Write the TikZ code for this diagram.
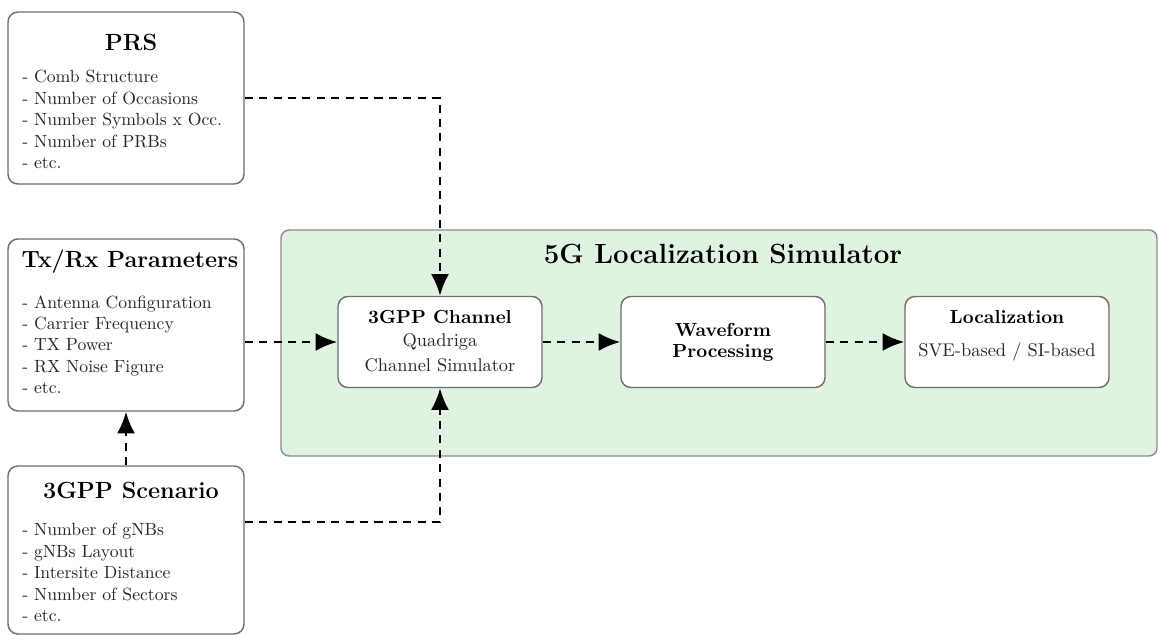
\documentclass[tikz,border=0pt]{standalone}
\usetikzlibrary{arrows.meta}
\definecolor{simgreen}{RGB}{224,243,224}
\definecolor{boxgray}{RGB}{110,110,110}
\definecolor{simborder}{RGB}{140,140,140}
\begin{document}
\begin{tikzpicture}[x=0.555pt,y=-0.555pt,
  inbox/.style={draw=boxgray, line width=0.8pt, rounded corners=5.5pt, fill=white,
    minimum width={236*0.555pt}, minimum height={172*0.555pt}, inner sep=0pt},
  procbox/.style={draw=boxgray, line width=0.8pt, rounded corners=5.5pt, fill=white,
    minimum width={204*0.555pt}, minimum height={91*0.555pt}, inner sep=0pt},
  bigtitle/.style={font=\fontsize{13}{15.6}\selectfont\bfseries, inner sep=0pt},
  listtext/.style={align=left, inner sep=0pt, anchor=north west, font=\fontsize{9.8}{11.9}\selectfont, text=black!85},
  proctitle/.style={font=\fontsize{10.5}{12.6}\selectfont\bfseries, inner sep=0pt},
  proctext/.style={font=\fontsize{10.2}{12.3}\selectfont, inner sep=0pt, text=black!85},
  flow/.style={draw=black, line width=1.5pt, dash pattern=on 4.5pt off 3.5pt,
    -{Latex[length=12pt,width=10pt]}}
]
\useasboundingbox (0,0) rectangle (1158,635);

% simulator frame
\node[draw=simborder, line width=0.8pt, fill=simgreen, rounded corners=4.5pt,
  minimum width={876*0.555pt}, minimum height={226*0.555pt}, inner sep=0pt] (sim) at (719,343) {};
\node[font=\fontsize{15.4}{18.5}\selectfont\bfseries, inner sep=0pt] (simtitle) at (723,254) {5G Localization Simulator};

% left boxes
\node[inbox] (prs) at (126,98) {};
\node[bigtitle] (prst) at (131,42) {PRS};
\node[listtext] (prsl) at (22,70) {- Comb Structure\\- Number of Occasions\\- Number Symbols x Occ.\\- Number of PRBs\\- etc.};

\node[inbox] (txrx) at (126,325) {};
\node[bigtitle] (txrxt) at (130,262) {Tx/Rx Parameters};
\node[listtext] (txrxl) at (22,295) {- Antenna Configuration\\- Carrier Frequency\\- TX Power\\- RX Noise Figure\\- etc.};

\node[inbox, minimum height={168*0.555pt}] (scen) at (126,550) {};
\node[bigtitle] (scent) at (131,490) {3GPP Scenario};
\node[listtext] (scenl) at (22,523) {- Number of gNBs\\- gNBs Layout\\- Intersite Distance\\- Number of Sectors\\- etc.};

% processing boxes
\node[procbox] (chan) at (440,342) {};
\node[proctitle] (chant) at (440,317) {3GPP Channel};
\node[proctext] (chanq) at (440,342) {Quadriga};
\node[proctext] (chans) at (440,365) {Channel Simulator};

\node[procbox] (wave) at (723,342) {};
\node[proctitle] (wavet1) at (723,330) {Waveform};
\node[proctitle] (wavet2) at (723,353) {Processing};

\node[procbox] (loc) at (1007,342) {};
\node[proctitle] (loct) at (1007,317) {Localization};
\node[proctext] (locl) at (1007,352) {SVE-based / SI-based};

% connectors
\draw[flow] (prs.east) -| (chan.north);
\draw[flow] (txrx.east |- chan.west) -- (chan.west);
\draw[flow] ([yshift={28*0.555pt}]scen.east) -| (chan.south);
\draw[flow] (scen.north) -- (txrx.south);
\draw[flow] (chan.east) -- (wave.west);
\draw[flow] (wave.east) -- (loc.west);
\end{tikzpicture}
\end{document}
